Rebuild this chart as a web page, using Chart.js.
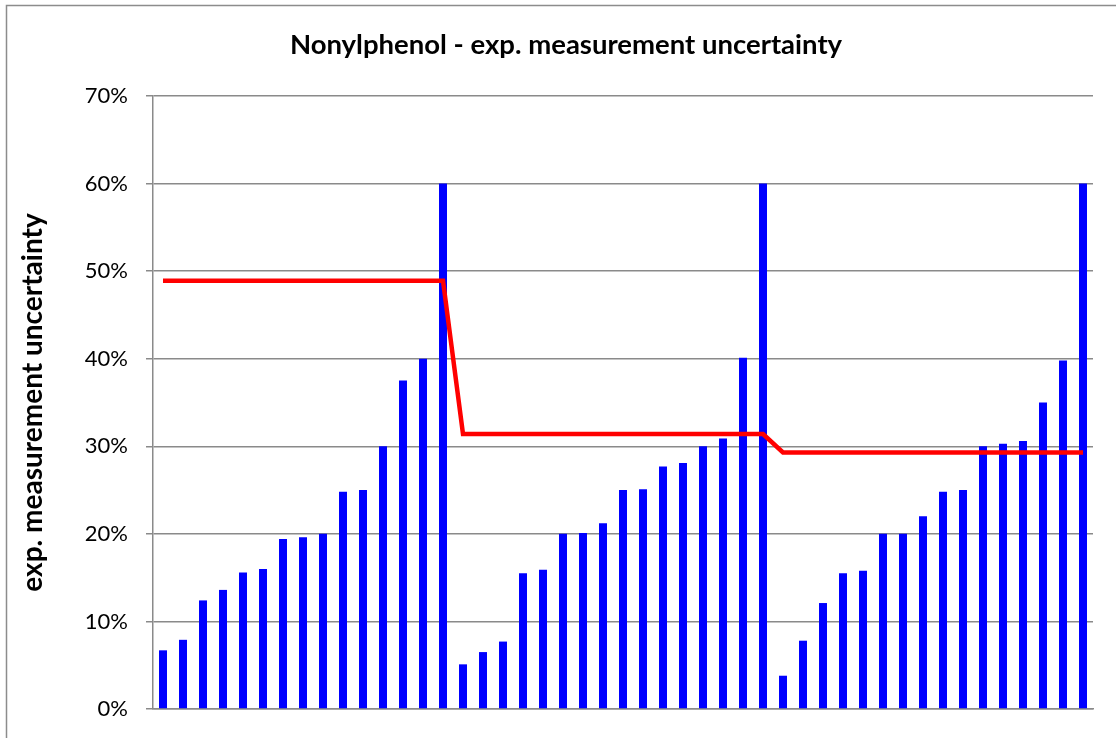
<!DOCTYPE html>
<html>
<head>
<meta charset="utf-8">
<script src="https://cdn.jsdelivr.net/npm/chart.js@4/dist/chart.umd.min.js"></script>
<style>
  html, body { margin: 0; padding: 0; background: #ffffff; }
  #wrap { position: relative; width: 1116px; height: 738px; }
</style>
</head>
<body>
<div id="wrap"><canvas id="c" width="1116" height="738"></canvas></div>
<script>
// ---- data (values in %) ----
const categories = Array.from({length: 47}, (_, i) => String(i + 1));
const uncertaintyGroup1 = [6.7, 7.9, 12.4, 13.6, 15.6, 16.0, 19.4, 19.6, 20.0, 24.8, 25.0, 30.0, 37.5, 40.0, 60.0];
const uncertaintyGroup2 = [5.1, 6.5, 7.7, 15.5, 15.9, 20.0, 20.1, 21.2, 25.0, 25.1, 27.7, 28.1, 30.0, 30.9, 40.1, 60.0];
const uncertaintyGroup3 = [3.8, 7.8, 12.1, 15.5, 15.8, 20.0, 20.0, 22.0, 24.8, 25.0, 30.0, 30.3, 30.6, 35.0, 39.8, 60.0];
const limitGroup1 = [48.9, 48.9, 48.9, 48.9, 48.9, 48.9, 48.9, 48.9, 48.9, 48.9, 48.9, 48.9, 48.9, 48.9, 48.9];
const limitGroup2 = [31.4, 31.4, 31.4, 31.4, 31.4, 31.4, 31.4, 31.4, 31.4, 31.4, 31.4, 31.4, 31.4, 31.4, 31.4, 31.4];
const limitGroup3 = [29.3, 29.3, 29.3, 29.3, 29.3, 29.3, 29.3, 29.3, 29.3, 29.3, 29.3, 29.3, 29.3, 29.3, 29.3, 29.3];
const yTickValues = [0, 10, 20, 30, 40, 50, 60, 70];
const chartTitle = 'Nonylphenol - exp. measurement uncertainty';
const yAxisTitle = 'exp. measurement uncertainty';

const barValues = [...uncertaintyGroup1, ...uncertaintyGroup2, ...uncertaintyGroup3];
const lineValues = [...limitGroup1, ...limitGroup2, ...limitGroup3];

const FONT = 'Lato, "Open Sans", "DejaVu Sans", sans-serif';
const GRID = '#8a8a8a';

const frame = {
  id: 'frame',
  beforeDraw(chart) {
    const ctx = chart.ctx;
    ctx.save();
    ctx.fillStyle = '#ffffff';
    ctx.fillRect(0, 0, chart.width, chart.height);
    ctx.strokeStyle = '#8c8c8c';
    ctx.lineWidth = 1.5;
    ctx.strokeRect(6.5, 5.5, chart.width + 20, chart.height + 20);
    ctx.restore();
  }
};

new Chart(document.getElementById('c'), {
  data: {
    labels: categories,
    datasets: [
      {
        type: 'line',
        data: lineValues,
        borderColor: '#ff0000',
        borderWidth: 4.5,
        pointRadius: 0,
        tension: 0,
        fill: false,
        order: 0
      },
      {
        type: 'bar',
        data: barValues,
        backgroundColor: '#0000ff',
        borderWidth: 0,
        barPercentage: 0.4,
        categoryPercentage: 1.0,
        order: 1
      }
    ]
  },
  options: {
    responsive: false,
    animation: false,
    devicePixelRatio: 1,
    layout: { padding: { left: 39, right: 23, top: 0, bottom: 29 } },
    plugins: {
      legend: { display: false },
      tooltip: { enabled: false },
      title: {
        display: true,
        text: chartTitle,
        color: '#000000',
        font: { family: FONT, size: 27.5, weight: 'bold' },
        padding: { top: 29, bottom: 34 }
      }
    },
    scales: {
      x: {
        offset: true,
        afterFit(scale) { scale.height = 0; },
        ticks: { display: false },
        grid: { display: false },
        border: { display: true, color: GRID, width: 1.5 }
      },
      y: {
        min: 0,
        max: 70,
        afterBuildTicks(scale) {
          scale.ticks = yTickValues.map(v => ({ value: v }));
        },
        afterFit(scale) {
          scale.width = 114;
          scale.paddingTop = 0;
          scale.paddingBottom = 0;
        },
        ticks: {
          color: '#000000',
          font: { family: FONT, size: 22 },
          padding: 18,
          callback: v => v + '%'
        },
        grid: { color: GRID, lineWidth: 1.5, tickLength: 7, drawTicks: true },
        border: { display: true, color: GRID, width: 1.5 },
        title: {
          display: true,
          text: yAxisTitle,
          color: '#000000',
          font: { family: FONT, size: 28, weight: 'bold' },
          padding: { top: -23, bottom: 0 }
        }
      }
    }
  },
  plugins: [frame]
});
</script>
</body>
</html>
